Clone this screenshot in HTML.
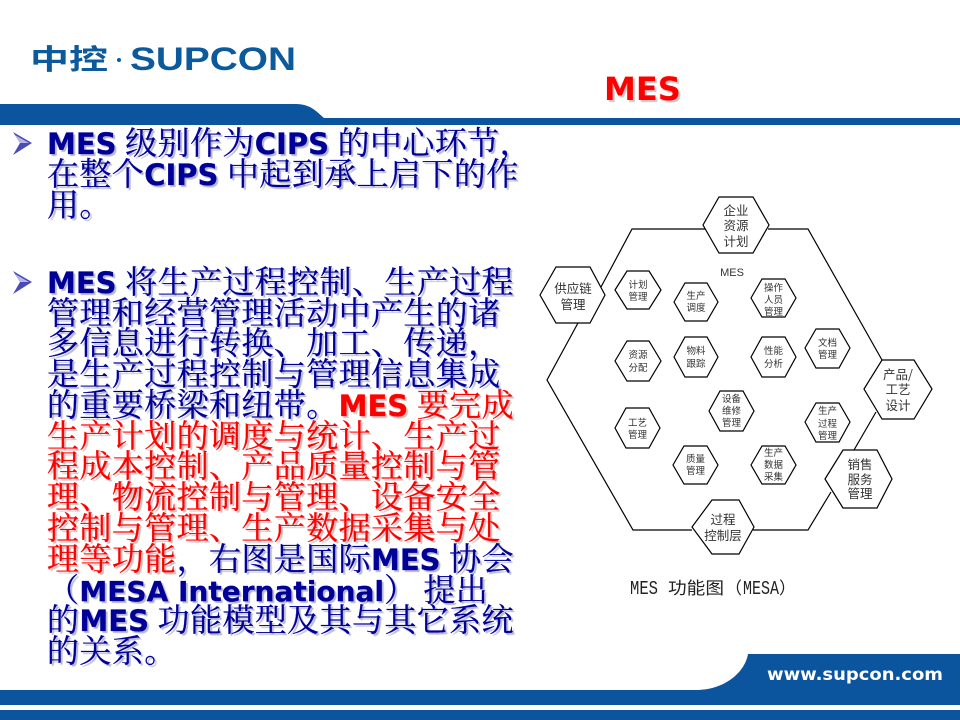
<!DOCTYPE html>
<html lang="zh">
<head>
<meta charset="utf-8">
<style>
html,body{margin:0;padding:0;background:#fff}
#p{position:relative;width:960px;height:720px;overflow:hidden;background:#fff}
svg{position:absolute;left:0;top:0}
.l{position:absolute;left:47px;height:31px;line-height:31px;white-space:nowrap;font-size:32px;letter-spacing:.4px;color:#000099;
font-family:"Noto Serif CJK SC","Liberation Serif",serif;text-shadow:2px 2px 1px #b4b4cc;-webkit-text-stroke:.25px currentColor}
.l b{font-family:"DejaVu Sans",sans-serif;font-size:29px;font-weight:bold;letter-spacing:0}
.r{color:#ff0000;text-shadow:2px 2px 1px #ccbcbc}
.t{position:absolute;left:604px;top:70px;line-height:36px;font:bold 32px "DejaVu Sans",sans-serif;color:#ff0000;text-shadow:2px 2px 1px #c8c8c8}
.hx{fill:#fff;stroke:#000;stroke-width:1.2}
.big{font:12.5px "Noto Sans CJK SC",sans-serif;fill:#333;text-anchor:middle}
.sm{font:9.5px "Noto Sans CJK SC",sans-serif;fill:#333;text-anchor:middle}
</style>
</head>
<body>
<div id="p">
<svg width="960" height="720" viewBox="0 0 960 720" xmlns="http://www.w3.org/2000/svg">
  <!-- header -->
  <path d="M0 104H296C310 104 316 111 324 118H960V125H0Z" fill="#0b549e"/>
  <text x="30" y="69" font-family="Noto Sans CJK SC,sans-serif" font-weight="bold" font-size="28" fill="#0c5a9c" textLength="78" lengthAdjust="spacingAndGlyphs">中控</text>
  <circle cx="119" cy="60" r="2" fill="#0c5a9c"/>
  <text x="130" y="70" font-family="Liberation Sans,sans-serif" font-weight="bold" font-size="32" fill="#0c5a9c" textLength="166" lengthAdjust="spacingAndGlyphs">SUPCON</text>
  <!-- bullets -->
  <polygon points="13,132 32,143 13,155 20,143" fill="#4a4ab8"/>
  <polygon points="15,135 29,143 20,143" fill="#b5b5e8"/>
  <polygon points="13,271 32,282 13,294 20,282" fill="#4a4ab8"/>
  <polygon points="15,274 29,282 20,282" fill="#b5b5e8"/>
  <!-- footer -->
  <path d="M748 654H960V705H0V690H696C725 690 745 672 748 654Z" fill="#0b549e"/>
  <rect x="0" y="710" width="960" height="10" fill="#0b549e"/>
  <text x="767" y="680" font-family="DejaVu Sans,sans-serif" font-weight="bold" font-size="17" fill="#fff" textLength="176" lengthAdjust="spacingAndGlyphs">www.supcon.com</text>
  <!-- outer connectors -->
  <g fill="none" stroke="#000" stroke-width="1.2">
    <polyline points="706,229 632,229 601,287"/>
    <polyline points="578,323 547,380 633,530 692,530"/>
    <polyline points="753,530 808,530 831,492"/>
    <polyline points="854,450 876,412"/>
    <polyline points="768,229 808,229 882,360"/>
  </g>
  <!-- big hexagons -->
  <polygon class="hx" points="703,225 719,197 753,197 769,225 753,253 719,253"/>
  <polygon class="hx" points="540,295 556,267 590,267 605,295 590,323 556,323"/>
  <polygon class="hx" points="864,389 882,360 914,360 932,389 914,419 882,419"/>
  <polygon class="hx" points="825,479 843,450 877,450 892,479 877,508 843,508"/>
  <polygon class="hx" points="692,527 712,500 739,500 754,527 739,554 712,554"/>
  <g class="big">
    <text x="736" y="215">企业</text><text x="736" y="230">资源</text><text x="736" y="246">计划</text>
    <text x="573" y="293">供应链</text><text x="573" y="309">管理</text>
    <text x="898" y="379">产品/</text><text x="898" y="394">工艺</text><text x="898" y="410">设计</text>
    <text x="860" y="469">销售</text><text x="860" y="484">服务</text><text x="860" y="498">管理</text>
    <text x="723" y="524">过程</text><text x="723" y="540">控制层</text>
  </g>
  <text x="732" y="276" font-family="Liberation Sans,sans-serif" font-size="11" fill="#333" text-anchor="middle">MES</text>
  <!-- small hexagons -->
  <polygon class="hx" points="615,290 627,271 649,271 661,290 649,309 627,309"/>
  <polygon class="hx" points="674,302 685,283 707,283 718,302 707,321 685,321"/>
  <polygon class="hx" points="615,361 627,341 649,341 661,361 649,381 627,381"/>
  <polygon class="hx" points="674,357 685,337 707,337 718,357 707,377 685,377"/>
  <polygon class="hx" points="751,298 762,279 785,279 796,298 785,317 762,317"/>
  <polygon class="hx" points="751,357 762,337 785,337 796,357 785,377 762,377"/>
  <polygon class="hx" points="805,348 816,329 839,329 850,348 839,368 816,368"/>
  <polygon class="hx" points="709,411 720,391 743,391 754,411 743,431 720,431"/>
  <polygon class="hx" points="615,428 626,408 649,408 660,428 649,448 626,448"/>
  <polygon class="hx" points="805,422 816,403 839,403 850,422 839,442 816,442"/>
  <polygon class="hx" points="673,465 684,446 707,446 718,465 707,484 684,484"/>
  <polygon class="hx" points="751,465 762,446 785,446 796,465 785,484 762,484"/>
  <g class="sm">
    <text x="638" y="288">计划</text><text x="638" y="300">管理</text>
    <text x="696" y="299">生产</text><text x="696" y="311">调度</text>
    <text x="638" y="358">资源</text><text x="638" y="371">分配</text>
    <text x="696" y="354">物料</text><text x="696" y="367">跟踪</text>
    <text x="773.5" y="291">操作</text><text x="773.5" y="303">人员</text><text x="773.5" y="315">管理</text>
    <text x="773.5" y="354">性能</text><text x="773.5" y="367">分析</text>
    <text x="827.5" y="346">文档</text><text x="827.5" y="358">管理</text>
    <text x="731.5" y="402">设备</text><text x="731.5" y="414">维修</text><text x="731.5" y="426">管理</text>
    <text x="637.5" y="426">工艺</text><text x="637.5" y="438">管理</text>
    <text x="827.5" y="414">生产</text><text x="827.5" y="427">过程</text><text x="827.5" y="439">管理</text>
    <text x="695.5" y="462">质量</text><text x="695.5" y="474">管理</text>
    <text x="773.5" y="456">生产</text><text x="773.5" y="468">数据</text><text x="773.5" y="480">采集</text>
  </g>
  <g fill="#222">
    <text x="630" y="594" font-family="Liberation Mono,monospace" font-size="19" textLength="28" lengthAdjust="spacingAndGlyphs">MES</text>
    <text x="668" y="594" font-family="Noto Sans CJK SC,sans-serif" font-size="17" textLength="56" lengthAdjust="spacingAndGlyphs">功能图</text>
    <text x="725" y="594" font-family="Noto Sans CJK SC,sans-serif" font-size="17">（</text>
    <text x="743" y="594" font-family="Liberation Mono,monospace" font-size="19" textLength="36" lengthAdjust="spacingAndGlyphs">MESA</text>
    <text x="779" y="594" font-family="Noto Sans CJK SC,sans-serif" font-size="17">）</text>
  </g>
</svg>

<div class="t">MES</div>

<div class="l" style="top:126px"><b>MES</b> 级别作为<b>CIPS</b> 的中心环节，</div>
<div class="l" style="top:157px">在整个<b>CIPS</b> 中起到承上启下的作</div>
<div class="l" style="top:188px">用。</div>

<div class="l" style="top:265px"><b>MES</b> 将生产过程控制、生产过程</div>
<div class="l" style="top:296px">管理和经营管理活动中产生的诸</div>
<div class="l" style="top:326px">多信息进行转换、加工、传递，</div>
<div class="l" style="top:357px">是生产过程控制与管理信息集成</div>
<div class="l" style="top:388px">的重要桥梁和纽带。<span class="r"><b>MES</b> 要完成</span></div>
<div class="l r" style="top:419px">生产计划的调度与统计、生产过</div>
<div class="l r" style="top:449px">程成本控制、产品质量控制与管</div>
<div class="l r" style="top:480px">理、物流控制与管理、设备安全</div>
<div class="l r" style="top:511px">控制与管理、生产数据采集与处</div>
<div class="l" style="top:542px"><span class="r">理等功能</span>，右图是国际<b>MES</b> 协会</div>
<div class="l" style="top:573px">（<b style="font-size:28px">MESA International</b><span style="margin-right:7px">）</span>提出</div>
<div class="l" style="top:603px">的<b>MES</b> 功能模型及其与其它系统</div>
<div class="l" style="top:634px">的关系。</div>
</div>
</body>
</html>
